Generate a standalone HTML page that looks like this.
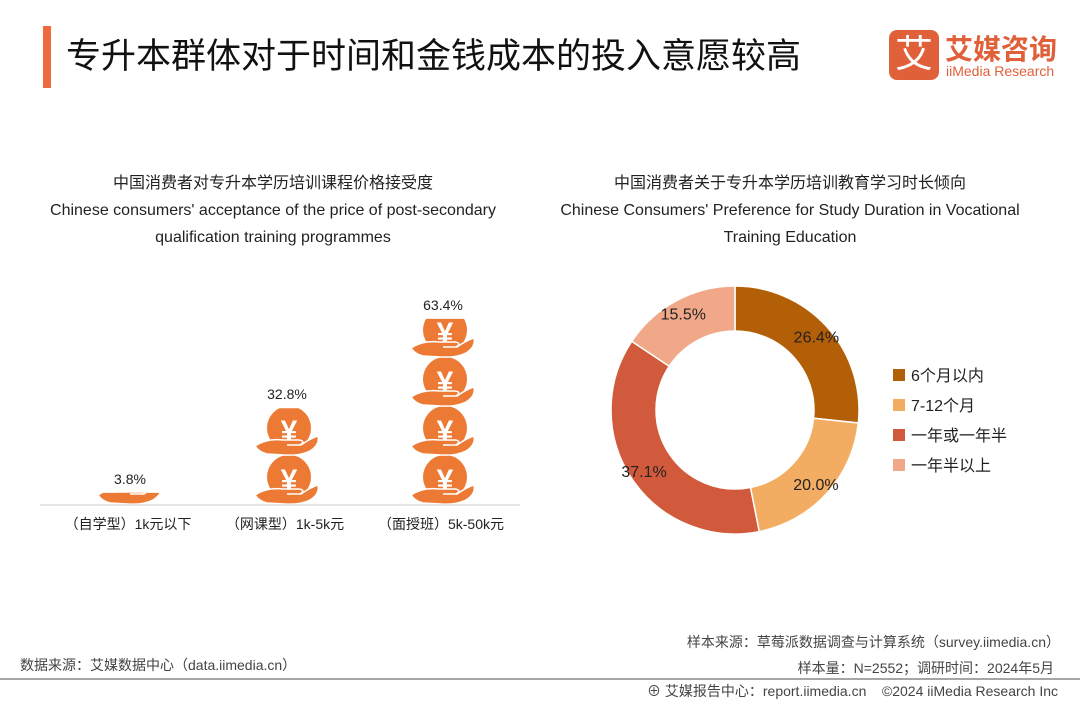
<!DOCTYPE html>
<html><head><meta charset="utf-8">
<style>
body{margin:0;width:1080px;height:702px;background:#fff;font-family:"Liberation Sans","Noto Sans CJK SC",sans-serif;overflow:hidden;position:relative}
.a{position:absolute;white-space:nowrap}
</style></head><body>
<div class="a" style="left:43px;top:26px;width:8px;height:62px;background:#ec6a3c"></div>
<div class="a" style="left:66px;top:28px;font-size:35px;color:#111">专升本群体对于时间和金钱成本的投入意愿较高</div>
<div class="a" style="left:889px;top:30px;width:50px;height:50px;background:#e0603a;border-radius:8px;color:#fff;font-size:38px;text-align:center;line-height:50px">艾</div>
<div class="a" style="left:945px;top:28px;font-size:28px;color:#e0603a;font-weight:bold">艾媒咨询</div>
<div class="a" style="left:946px;top:63px;font-size:14px;color:#e0603a">iiMedia Research</div>

<div class="a" style="left:0;width:546px;top:170px;text-align:center;font-size:16px;color:#222;line-height:27px">中国消费者对专升本学历培训课程价格接受度<br>Chinese consumers' acceptance of the price of post-secondary<br>qualification training programmes</div>
<div class="a" style="left:520px;width:540px;top:170px;text-align:center;font-size:16px;color:#222;line-height:27px">中国消费者关于专升本学历培训教育学习时长倾向<br>Chinese Consumers' Preference for Study Duration in Vocational<br>Training Education</div>

<svg class="a" style="left:0;top:0" width="1080" height="702">
<defs>
<g id="icon">
<circle cx="34" cy="22" r="22" fill="#ec7a34"/>
<text x="34" y="35" font-size="30" fill="#fff" text-anchor="middle" font-family="Liberation Sans,Noto Sans CJK SC,sans-serif" font-weight="bold">¥</text>
<path d="M0,40 Q12,32 28,34 L44,34 Q51,35 45,39 L32,39 L46,39 Q56,32 63,30 Q65,39 55,45 Q45,50 30,49 L12,48 Q4,46 0,40 Z" fill="#ec7a34" stroke="#fff" stroke-width="1.5"/>
</g>
</defs>
<g id="pict"></g>
<line x1="40" y1="505" x2="520" y2="505" stroke="#ddd" stroke-width="1.5"/>
<g id="donut"></g>
<line x1="0" y1="679" x2="1080" y2="679" stroke="#888" stroke-width="1.5"/>
</svg>

<div class="a" style="left:893px;top:362px;font-size:16px;color:#222;line-height:30px">
<div><span style="display:inline-block;width:12px;height:12px;background:#b35f07;margin-right:6px"></span>6个月以内</div>
<div><span style="display:inline-block;width:12px;height:12px;background:#f3ad62;margin-right:6px"></span>7-12个月</div>
<div><span style="display:inline-block;width:12px;height:12px;background:#d25a3c;margin-right:6px"></span>一年或一年半</div>
<div><span style="display:inline-block;width:12px;height:12px;background:#f0a888;margin-right:6px"></span>一年半以上</div>
</div>

<div class="a" style="right:20px;top:632px;font-size:14px;color:#444">样本来源：草莓派数据调查与计算系统（survey.iimedia.cn）</div>
<div class="a" style="left:20px;top:655px;font-size:14px;color:#444">数据来源：艾媒数据中心（data.iimedia.cn）</div>
<div class="a" style="right:26px;top:658px;font-size:14px;color:#444">样本量：N=2552；调研时间：2024年5月</div>
<div class="a" style="right:22px;top:681px;font-size:14px;color:#444">⊕ 艾媒报告中心：report.iimedia.cn &nbsp;&nbsp; ©2024 iiMedia Research Inc</div>

<script>
const NS="http://www.w3.org/2000/svg";
const priceCats=["（自学型）1k元以下","（网课型）1k-5k元","（面授班）5k-50k元"];
const priceVals=[3.8,32.8,63.4];
const durCats=["6个月以内","7-12个月","一年或一年半","一年半以上"];
const durVals=[26.4,20.0,37.1,15.5];
const durColors=["#b35f07","#f3ad62","#d25a3c","#f0a888"];

function mk(t,a){const e=document.createElementNS(NS,t);for(const k in a)e.setAttribute(k,a[k]);return e;}
const base=504, pxPer=2.92, unitH=49, cxs=[130,287,443];
const pict=document.getElementById('pict');
priceVals.forEach((v,i)=>{
  const h=v*pxPer, x=cxs[i]-32;
  const cp=mk('clipPath',{id:'c'+i});
  cp.appendChild(mk('rect',{x:x-5,y:base-h,width:75,height:h}));
  pict.appendChild(cp);
  const g=mk('g',{'clip-path':'url(#c'+i+')'});
  
  
  const n=Math.ceil(h/unitH);
  for(let k=0;k<n;k++){const u=mk('use',{href:'#icon',x:x,y:base-(k+1)*unitH});g.appendChild(u);}
  pict.appendChild(g);
  const t=mk('text',{x:cxs[i],y:base-h-9,'text-anchor':'middle','font-size':14,fill:'#222'});
  
  
  t.textContent=v+'%';pict.appendChild(t);
  const c=mk('text',{x:cxs[i]-2,y:529,'text-anchor':'middle','font-size':14,fill:'#222'});
  
  
  c.textContent=priceCats[i];pict.appendChild(c);
});
const dn=document.getElementById('donut');
const cx=735,cy=410,R=124,r=79;
const tot=durVals.reduce((a,b)=>a+b,0);
let a0=-Math.PI/2;
durVals.forEach((v,i)=>{
  const a1=a0+v/tot*2*Math.PI, lg=(a1-a0)>Math.PI?1:0;
  const p=(rad,a)=>[cx+rad*Math.cos(a),cy+rad*Math.sin(a)];
  const [x1,y1]=p(R,a0),[x2,y2]=p(R,a1),[x3,y3]=p(r,a1),[x4,y4]=p(r,a0);
  const path=mk('path',{d:`M${x1},${y1}A${R},${R} 0 ${lg} 1 ${x2},${y2}L${x3},${y3}A${r},${r} 0 ${lg} 0 ${x4},${y4}Z`,fill:durColors[i],stroke:'#fff','stroke-width':1.5});
  
  
  dn.appendChild(path);
  const am=(a0+a1)/2,[lx,ly]=p((R+r)/2+8,am);
  const t=mk('text',{x:lx,y:ly+6,'text-anchor':'middle','font-size':16,fill:'#222'});
  
  
  t.textContent=v.toFixed(1)+'%';dn.appendChild(t);
  a0=a1;
});
</script>
</body></html>
